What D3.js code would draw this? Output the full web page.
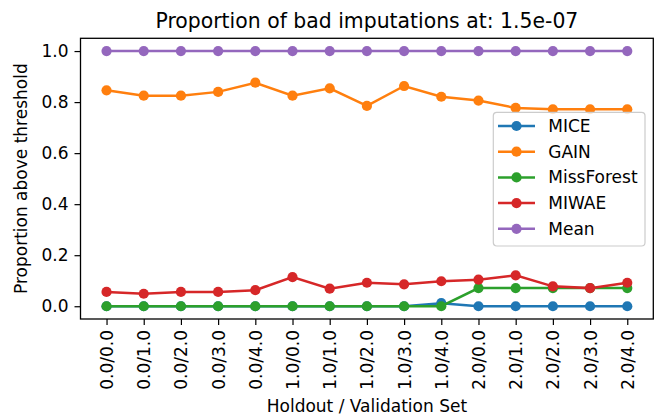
<!DOCTYPE html>
<html>
<head>
<meta charset="utf-8">
<script src="https://cdn.jsdelivr.net/npm/d3@7"></script>
<style>
  body { margin: 0; background: #fff; }
  svg text { font-family: "DejaVu Sans", sans-serif; fill: #000; }
</style>
</head>
<body>
<div id="chart"></div>
<script>
// Categories along the x axis (holdout / validation set)
var categories = ["0.0/0.0", "0.0/1.0", "0.0/2.0", "0.0/3.0", "0.0/4.0",
                  "1.0/0.0", "1.0/1.0", "1.0/2.0", "1.0/3.0", "1.0/4.0",
                  "2.0/0.0", "2.0/1.0", "2.0/2.0", "2.0/3.0", "2.0/4.0"];

// Series values
var mice       = [0, 0, 0, 0, 0, 0, 0, 0, 0, 0.012, 0, 0, 0, 0, 0];
var gain       = [0.846, 0.825, 0.825, 0.840, 0.876, 0.825, 0.854, 0.785, 0.863, 0.821, 0.806, 0.777, 0.772, 0.772, 0.772];
var missForest = [0, 0, 0, 0, 0, 0, 0, 0, 0, 0, 0.071, 0.071, 0.071, 0.071, 0.071];
var miwae      = [0.056, 0.049, 0.056, 0.056, 0.063, 0.114, 0.069, 0.092, 0.086, 0.098, 0.104, 0.121, 0.078, 0.071, 0.092];
var meanImp    = [1, 1, 1, 1, 1, 1, 1, 1, 1, 1, 1, 1, 1, 1, 1];

var seriesNames = ["MICE", "GAIN", "MissForest", "MIWAE", "Mean"];
var seriesValues = [mice, gain, missForest, miwae, meanImp];
var seriesColors = ["#1f77b4", "#ff7f0e", "#2ca02c", "#d62728", "#9467bd"];

var yTicks = [0, 0.2, 0.4, 0.6, 0.8, 1.0];

var W = 656, H = 415;
var margin = {top: 38.3, right: 2.7, bottom: 96, left: 80.5};
var width = W - margin.left - margin.right,
    height = H - margin.top - margin.bottom;

var svg = d3.select("#chart").append("svg")
    .attr("width", W)
    .attr("height", H);

var g = svg.append("g")
    .attr("transform", "translate(" + margin.left + "," + margin.top + ")");

var x = d3.scalePoint()
    .domain(categories)
    .range([0, width])
    .padding(0.7);

var y = d3.scaleLinear()
    .domain([-0.05, 1.05])
    .range([height, 0]);

var fs = 17;

// X axis
var xAxis = g.append("g")
    .attr("transform", "translate(0," + height + ")")
    .call(d3.axisBottom(x).tickSize(6).tickPadding(5));
xAxis.select(".domain").remove();
xAxis.selectAll("line").attr("stroke", "#000").attr("stroke-width", 1.2);
xAxis.selectAll("text")
    .attr("font-size", fs)
    .attr("transform", "rotate(-90)")
    .attr("x", -11)
    .attr("y", 0)
    .attr("dy", "0.35em")
    .style("text-anchor", "end");

// Y axis
var yAxis = g.append("g")
    .call(d3.axisLeft(y).tickValues(yTicks).tickFormat(d3.format(".1f")).tickSize(6).tickPadding(6));
yAxis.select(".domain").remove();
yAxis.selectAll("line").attr("stroke", "#000").attr("stroke-width", 1.2);
yAxis.selectAll("text").attr("font-size", fs);

// Lines and markers
seriesValues.forEach(function(vals, i) {
  var line = d3.line()
    .x(function(d, j) { return x(categories[j]); })
    .y(function(d) { return y(d); });
  g.append("path")
    .datum(vals)
    .attr("fill", "none")
    .attr("stroke", seriesColors[i])
    .attr("stroke-width", 2.5)
    .attr("d", line);
  g.selectAll(".pt" + i)
    .data(vals)
    .enter().append("circle")
    .attr("cx", function(d, j) { return x(categories[j]); })
    .attr("cy", function(d) { return y(d); })
    .attr("r", 5.1)
    .attr("fill", seriesColors[i]);
});

// Frame
g.append("rect")
    .attr("width", width)
    .attr("height", height)
    .attr("fill", "none")
    .attr("stroke", "#000")
    .attr("stroke-width", 1.3);

// Title
svg.append("text")
    .attr("x", margin.left + width / 2)
    .attr("y", 28.3)
    .attr("text-anchor", "middle")
    .attr("font-size", 20.4)
    .text("Proportion of bad imputations at: 1.5e-07");

// Axis labels
svg.append("text")
    .attr("x", margin.left + width / 2)
    .attr("y", 411.5)
    .attr("text-anchor", "middle")
    .attr("font-size", fs)
    .text("Holdout / Validation Set");

svg.append("text")
    .attr("transform", "translate(27," + (margin.top + height / 2) + ")rotate(-90)")
    .attr("text-anchor", "middle")
    .attr("font-size", fs)
    .text("Proportion above threshold");

// Legend
var legend = svg.append("g").attr("transform", "translate(493.3,112.3)");
legend.append("rect")
    .attr("width", 151.7)
    .attr("height", 133.7)
    .attr("rx", 3.5)
    .attr("fill", "#fff")
    .attr("fill-opacity", 0.8)
    .attr("stroke", "#ccc")
    .attr("stroke-width", 1.2);

seriesNames.forEach(function(name, i) {
  var ly = 13.7 + i * 25.7;
  var item = legend.append("g").attr("transform", "translate(0," + ly + ")");
  item.append("line")
    .attr("x1", 4.7).attr("x2", 41.7)
    .attr("stroke", seriesColors[i])
    .attr("stroke-width", 2.5);
  item.append("circle")
    .attr("cx", 23.2)
    .attr("r", 5.1)
    .attr("fill", seriesColors[i]);
  item.append("text")
    .attr("x", 55)
    .attr("dy", "0.35em")
    .attr("font-size", fs)
    .text(name);
});
</script>
</body>
</html>
